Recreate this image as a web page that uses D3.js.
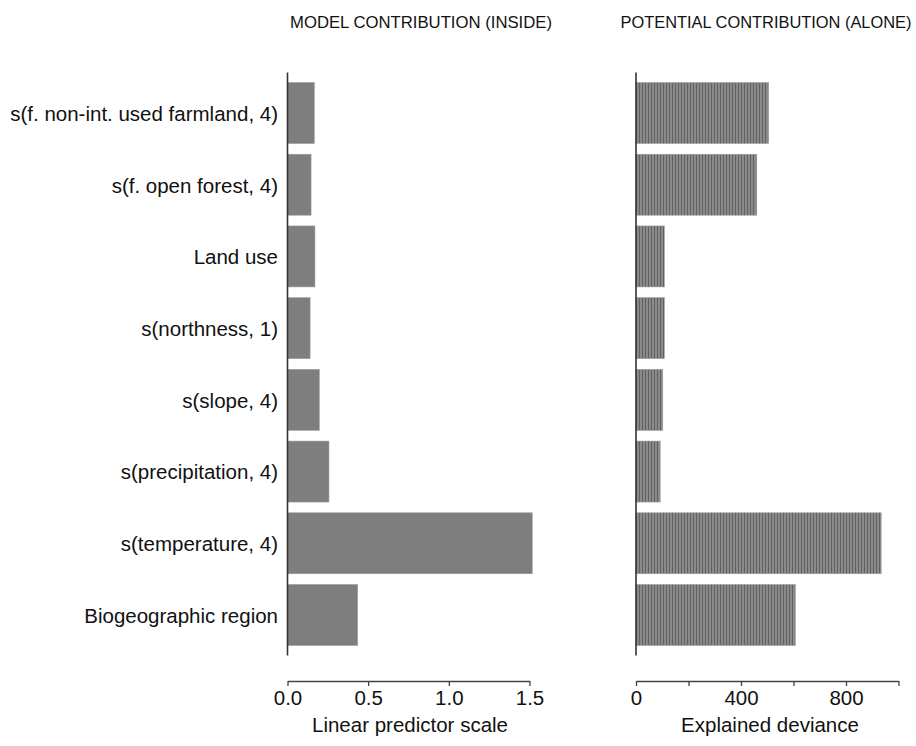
<!DOCTYPE html>
<html>
<head>
<meta charset="utf-8">
<script src="https://cdn.jsdelivr.net/npm/d3@7/dist/d3.min.js"></script>
<style>
  html, body { margin: 0; padding: 0; background: #fff; }
  svg { display: block; font-family: "Liberation Sans", Arial, sans-serif; }
</style>
</head>
<body>
<svg id="chart" width="916" height="746"></svg>
<script>
// Model terms, top to bottom
const terms = [
  "s(f. non-int. used farmland, 4)",
  "s(f. open forest, 4)",
  "Land use",
  "s(northness, 1)",
  "s(slope, 4)",
  "s(precipitation, 4)",
  "s(temperature, 4)",
  "Biogeographic region"
];

// Contribution of each term inside the full model (linear predictor scale)
const insideValues = [0.166, 0.146, 0.170, 0.140, 0.197, 0.257, 1.517, 0.435];

// Deviance explained by each term fitted alone
const aloneValues = [505, 460, 108, 108, 102, 92, 934, 607];

// Axis ticks and labels
const insideTicks = [0, 0.5, 1.0, 1.5];
const insideTickLabels = ["0.0", "0.5", "1.0", "1.5"];
const aloneTicks = [0, 200, 400, 600, 800, 1000];
const aloneTickLabels = ["0", "", "400", "", "800", ""];

const panelTitles = ["MODEL CONTRIBUTION (INSIDE)", "POTENTIAL CONTRIBUTION (ALONE)"];
const axisTitles = ["Linear predictor scale", "Explained deviance"];

const svg = d3.select("#chart");

// Fine stripe pattern used for the deviance bars
const defs = svg.append("defs");
const pat = defs.append("pattern")
  .attr("id", "stripes")
  .attr("patternUnits", "userSpaceOnUse")
  .attr("width", 3).attr("height", 3);
pat.append("rect").attr("width", 3).attr("height", 3).attr("fill", "#8a8a8a");
pat.append("rect").attr("width", 1).attr("height", 3).attr("fill", "#616161");

// Shared vertical band scale
const y = d3.scaleBand()
  .domain(terms)
  .range([72.5, 655.5])
  .paddingInner(0.15)
  .paddingOuter(0.14);

const axisY = 681;
const fontSize = 20.5;

const panels = [
  { values: insideValues, domain: [0, 1.5], range: [287.5, 529.5],
    ticks: insideTicks, labels: insideTickLabels, fill: "#7e7e7e",
    title: panelTitles[0], titleX: 421, titleLen: 262, axisTitle: axisTitles[0], axisTitleX: 410 },
  { values: aloneValues, domain: [0, 1000], range: [636, 898.5],
    ticks: aloneTicks, labels: aloneTickLabels, fill: "url(#stripes)",
    title: panelTitles[1], titleX: 766, titleLen: 291, axisTitle: axisTitles[1], axisTitleX: 770 }
];

panels.forEach(p => {
  const x = d3.scaleLinear().domain(p.domain).range(p.range);
  const g = svg.append("g");

  // bars
  g.selectAll("rect.bar")
    .data(terms.map((t, i) => ({ term: t, value: p.values[i] })))
    .join("rect")
    .attr("class", "bar")
    .attr("x", x(0))
    .attr("y", d => y(d.term))
    .attr("width", d => x(d.value) - x(0))
    .attr("height", y.bandwidth())
    .attr("fill", p.fill)
    .attr("stroke", "#9a9a9a")
    .attr("stroke-width", 0.6);

  // vertical baseline
  g.append("line")
    .attr("x1", x(0)).attr("x2", x(0))
    .attr("y1", y.range()[0]).attr("y2", y.range()[1])
    .attr("stroke", "#333")
    .attr("stroke-width", 1.6);

  // bottom axis
  const axis = d3.axisBottom(x)
    .tickValues(p.ticks)
    .tickFormat((d, i) => p.labels[i])
    .tickSizeInner(5)
    .tickSizeOuter(0)
    .tickPadding(4);
  const ax = svg.append("g")
    .attr("transform", `translate(0,${axisY})`)
    .call(axis);
  ax.select(".domain").attr("stroke", "#444").attr("stroke-width", 1.3);
  ax.selectAll(".tick line").attr("stroke", "#444").attr("stroke-width", 1.3);
  ax.selectAll(".tick text")
    .attr("font-size", fontSize)
    .attr("font-family", "Liberation Sans, Arial, sans-serif")
    .attr("fill", "#111");

  // axis title
  svg.append("text")
    .attr("x", p.axisTitleX)
    .attr("y", 732)
    .attr("text-anchor", "middle")
    .attr("font-size", fontSize)
    .attr("fill", "#111")
    .text(p.axisTitle);

  // panel title
  svg.append("text")
    .attr("x", p.titleX)
    .attr("y", 28)
    .attr("text-anchor", "middle")
    .attr("font-size", 16.5)
    .attr("textLength", p.titleLen)
    .attr("lengthAdjust", "spacingAndGlyphs")
    .attr("fill", "#111")
    .text(p.title);
});

// term labels
svg.append("g")
  .selectAll("text")
  .data(terms)
  .join("text")
  .attr("x", 278)
  .attr("y", d => y(d) + y.bandwidth() / 2)
  .attr("dy", "0.38em")
  .attr("text-anchor", "end")
  .attr("font-size", fontSize)
  .attr("fill", "#111")
  .text(d => d);
</script>
</body>
</html>
